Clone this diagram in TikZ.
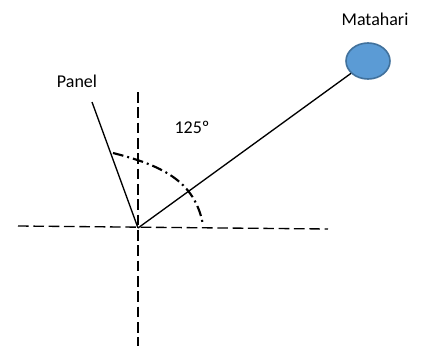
\documentclass[tikz,border=0pt]{standalone}
\usepackage{fontspec}
\setmainfont{Carlito}
\usepackage{tikz}
\usetikzlibrary{positioning}
\usetikzlibrary{shapes.geometric}
\usepackage{xcolor}
\definecolor{sunfill}{RGB}{91,155,213}
\definecolor{sunedge}{RGB}{65,113,156}

\begin{document}
\begin{tikzpicture}[x=0.75pt,y=-0.75pt,
    axis/.style={line width=1pt, dash pattern=on 8pt off 3.5pt},
    ray/.style={line width=1pt},
    angle/.style={line width=1.6pt, dash pattern=on 8pt off 3pt on 1.5pt off 3pt},
    label/.style={font=\fontsize{13.5}{16}\selectfont, inner sep=0pt}]
    \useasboundingbox (0,0) rectangle (422,347);

    % Axes through the panel foot
    \coordinate (O) at (138,228);
    \coordinate (left) at (18,226);
    \coordinate (right) at (328,229);
    \coordinate (top) at (138,92);
    \coordinate (bottom) at (138,346);
    \draw[axis] (left) -- (right);
    \draw[axis] (top) -- (bottom);

    % Panel
    \coordinate (paneltop) at (92,102);
    \draw[ray] (O) -- (paneltop);
    \node[label] (panel) at (77,81) {Panel};

    % Sun and its ray
    \node[ellipse, draw=sunedge, fill=sunfill, line width=1.2pt,
          minimum width=33pt, minimum height=27pt, inner sep=0pt] (sun) at (368,61) {};
    \draw[ray] (O) -- (sun);
    \node[label] (matahari) at (375,19) {Matahari};

    % Angle
    \coordinate (arcstart) at (113,153);
    \coordinate (arcend) at (203,225);
    \draw[angle] (arcstart) .. controls (160,165) and (195,180) .. (arcend);
    \node[label] (deg) at (192,127) {125º};
\end{tikzpicture}
\end{document}
